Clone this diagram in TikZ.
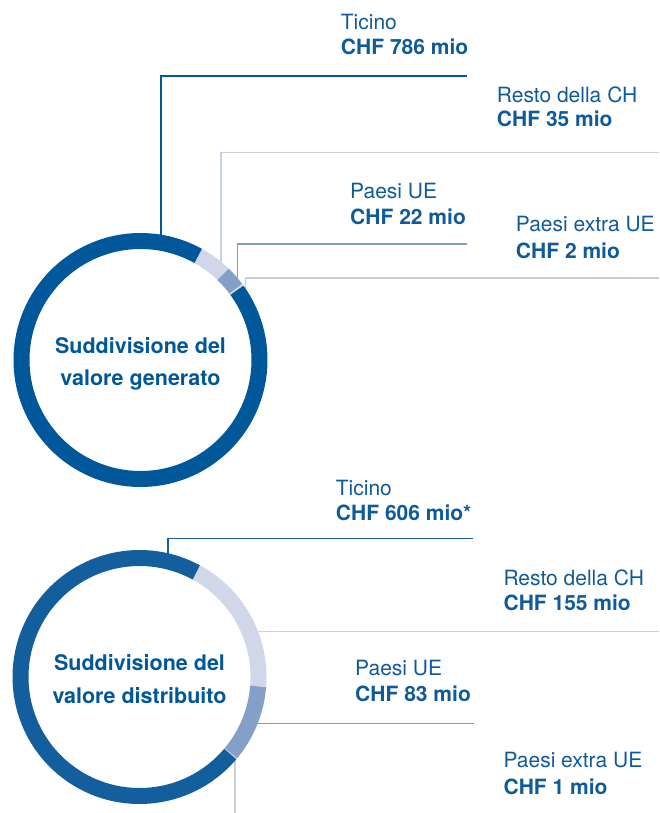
\documentclass[tikz,border=0pt]{standalone}
\usepackage{fontspec}
\setmainfont{TeX Gyre Heros}
\usetikzlibrary{calc}
\definecolor{dkblue}{HTML}{00589A}
\definecolor{dkblueb}{HTML}{135F9E}
\definecolor{ltblue}{HTML}{CFD7E9}
\definecolor{mdblue}{HTML}{84A0C9}
\definecolor{xgray}{HTML}{D4D6DA}
\definecolor{txtblue}{HTML}{0F5A9B}
\definecolor{lnresto}{HTML}{C7D2E8}
\definecolor{lnue}{HTML}{7F9CC8}
\definecolor{lnx}{HTML}{CBCDD1}
\begin{document}
\begin{tikzpicture}[x=1pt,y=-1pt,
  seg/.style={line width=16pt},
  lbl/.style={anchor=base west, inner sep=0pt, font=\fontsize{21}{25}\selectfont, text=txtblue},
  val/.style={anchor=base west, inner sep=0pt, font=\fontsize{21}{25}\selectfont\bfseries, text=txtblue},
  ttl/.style={anchor=base, inner sep=0pt, font=\fontsize{21.5}{32}\selectfont\bfseries, text=dkblue},
  conn/.style={line width=1.2pt}]
\useasboundingbox (0,0) rectangle (659,813);

% ---------------- top chart ----------------
\coordinate (c1) at (140.5,360);
% labels
\node[lbl] (t1a) at (340.7,30) {Ticino};
\node[val] (t1b) at (340.7,55) {CHF 786 mio};
\node[lbl] (t2a) at (496.7,102.7) {Resto della CH};
\node[val] (t2b) at (496.7,126.7) {CHF 35 mio};
\node[lbl] (t3a) at (350,198.3) {Paesi UE};
\node[val] (t3b) at (350,224) {CHF 22 mio};
\node[lbl] (t4a) at (515.7,231.7) {Paesi extra UE};
\node[val] (t4b) at (515.7,258) {CHF 2 mio};
% connectors
\coordinate (p1s) at (161,250);  \coordinate (p1k) at (161,76);  \coordinate (p1e) at (467,76);
\coordinate (p2s) at (221,270);  \coordinate (p2k) at (221,152.7); \coordinate (p2e) at (659,152.7);
\coordinate (p3s) at (237.5,285); \coordinate (p3k) at (237.5,244); \coordinate (p3e) at (467,244);
\coordinate (p4s) at (245.7,295); \coordinate (p4k) at (245.7,278); \coordinate (p4e) at (659,278);
\draw[conn, dkblue] (p1s) -- (p1k) -- (p1e);
\draw[conn, lnresto] (p2s) -- (p2k) -- (p2e);
\draw[conn, lnue] (p3s) -- (p3k) -- (p3e);
\draw[conn, lnx] (p4s) -- (p4k) -- (p4e);
% ring
\draw[seg, ltblue] (c1) ++(61:119pt) arc[start angle=61, end angle=46.09, radius=119pt];
\draw[seg, mdblue] (c1) ++(46.09:119pt) arc[start angle=46.09, end angle=36.72, radius=119pt];
\draw[seg, xgray] (c1) ++(36.72:119pt) arc[start angle=36.72, end angle=35.87, radius=119pt];
\draw[seg, dkblue] (c1) ++(35.87:119pt) arc[start angle=35.87, end angle=-299, radius=119pt];
\node[ttl] (g1a) at (140.5,353.3) {Suddivisione del};
\node[ttl] (g1b) at (140.5,385) {valore generato};

% ---------------- bottom chart ----------------
\coordinate (c2) at (139.5,677);
\node[lbl] (b1a) at (335.7,495) {Ticino};
\node[val] (b1b) at (335.7,520) {CHF 606 mio*};
\node[lbl] (b2a) at (503.3,585) {Resto della CH};
\node[val] (b2b) at (503.3,610) {CHF 155 mio};
\node[lbl] (b3a) at (355,675) {Paesi UE};
\node[val] (b3b) at (355,701.7) {CHF 83 mio};
\node[lbl] (b4a) at (503.3,767.7) {Paesi extra UE};
\node[val] (b4b) at (503.3,794) {CHF 1 mio};
\coordinate (q1s) at (168,560); \coordinate (q1k) at (168,538.3); \coordinate (q1e) at (473,538.3);
\coordinate (q2s) at (245,631.7); \coordinate (q2e) at (659,631.7);
\coordinate (q3s) at (245,723.3); \coordinate (q3e) at (474,723.3);
\coordinate (q4s) at (235,750); \coordinate (q4e) at (235,813);
\draw[conn, dkblueb] (q1s) -- (q1k) -- (q1e);
\draw[conn, lnresto] (q2s) -- (q2e);
\draw[conn, lnue] (q3s) -- (q3e);
\draw[conn, lnx] (q4s) -- (q4e);
\draw[seg, ltblue] (c2) ++(61.5:119pt) arc[start angle=61.5, end angle=-4.54, radius=119pt];
\draw[seg, mdblue] (c2) ++(-4.54:119pt) arc[start angle=-4.54, end angle=-39.90, radius=119pt];
\draw[seg, xgray] (c2) ++(-39.90:119pt) arc[start angle=-39.90, end angle=-40.33, radius=119pt];
\draw[seg, dkblueb] (c2) ++(-40.33:119pt) arc[start angle=-40.33, end angle=-298.5, radius=119pt];
\node[ttl] (g2a) at (139.5,670) {Suddivisione del};
\node[ttl] (g2b) at (139.5,703.3) {valore distribuito};
\end{tikzpicture}
\end{document}
